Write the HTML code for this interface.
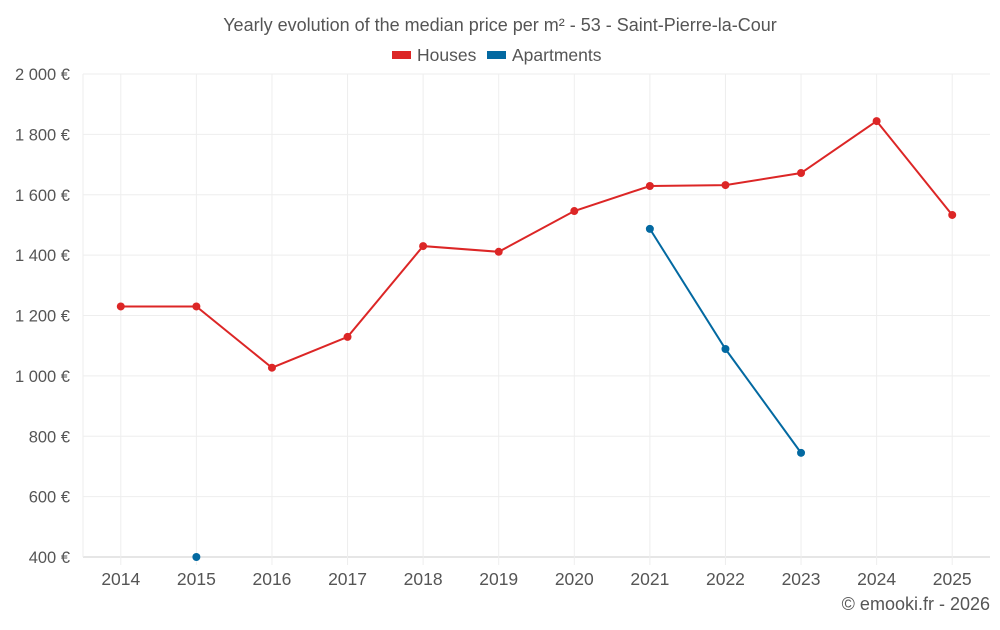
<!DOCTYPE html>
<html><head><meta charset="utf-8"><style>
body{margin:0;background:#fff;font-family:"Liberation Sans",sans-serif;}
svg text{font-family:"Liberation Sans",sans-serif;}
</style></head><body>
<svg id="c" width="1000" height="625">
<text x="500" y="31" text-anchor="middle" font-size="18" fill="#555">Yearly evolution of the median price per m² - 53 - Saint-Pierre-la-Cour</text>
<g><rect x="392" y="51" width="19" height="8" fill="#dc2626"/><text x="417" y="61" font-size="17.5" fill="#555">Houses</text></g>
<g><rect x="487" y="51" width="19" height="8" fill="#0369a1"/><text x="512" y="61" font-size="17.5" fill="#555">Apartments</text></g>
<g id="grid"></g><g id="marks"></g>
<text x="990" y="610" text-anchor="end" font-size="18" fill="#555">© emooki.fr - 2026</text>
</svg>
<script>
const years=["2014","2015","2016","2017","2018","2019","2020","2021","2022","2023","2024","2025"];
const houses=[1230,1230,1027,1129,1430,1411,1546,1629,1632,1672,1844,1533];
const apartments=[null,400,null,null,null,null,null,1487,1089,745,null,null];
const yTicks=[400,600,800,1000,1200,1400,1600,1800,2000];
const yTickLabels=["400 €","600 €","800 €","1 000 €","1 200 €","1 400 €","1 600 €","1 800 €","2 000 €"];
const L=83,R=990,T=74,B=557,ymin=400,ymax=2000;
const step=(R-L)/years.length;
const x=i=>L+step*(i+0.5);
const y=v=>B-(v-ymin)/(ymax-ymin)*(B-T);
const NS="http://www.w3.org/2000/svg";
const g=document.getElementById('grid'),m=document.getElementById('marks');
function el(t,a,p){const e=document.createElementNS(NS,t);for(const k in a)e.setAttribute(k,a[k]);p.appendChild(e);return e;}
yTicks.forEach((v,i)=>{
 const ln=el('line',{x1:L,x2:R,y1:y(v),y2:y(v),stroke:i==0?'#ccc':'#eee'},g);
 
 
 const t=el('text',{x:70,y:y(v)+6,'text-anchor':'end','font-size':16.5,fill:'#555'},g);
 t.textContent=yTickLabels[i];
 
 
});
el('line',{x1:L,x2:L,y1:T,y2:B,stroke:'#eee'},g);
years.forEach((yr,i)=>{
 const ln=el('line',{x1:x(i),x2:x(i),y1:T,y2:B+8,stroke:'#eee'},g);
 
 
 const t=el('text',{x:x(i),y:585,'text-anchor':'middle','font-size':17.5,fill:'#555'},g);
 t.textContent=yr;
 
 
});
function series(vals,color,name){
 let segs=[],cur=[];
 vals.forEach((v,i)=>{if(v==null){if(cur.length)segs.push(cur);cur=[];}else cur.push([x(i),y(v)]);});
 if(cur.length)segs.push(cur);
 segs.forEach(s=>{if(s.length>1){const p=el('polyline',{points:s.map(q=>q.join(',')).join(' '),fill:'none',stroke:color,'stroke-width':2},m);
  
  }});
 vals.forEach((v,i)=>{if(v==null)return;const c=el('circle',{cx:x(i),cy:y(v),r:4,fill:color},m);
  
  });
}
series(houses,'#dc2626','houses');
series(apartments,'#0369a1','apartments');
</script>
</body></html>
